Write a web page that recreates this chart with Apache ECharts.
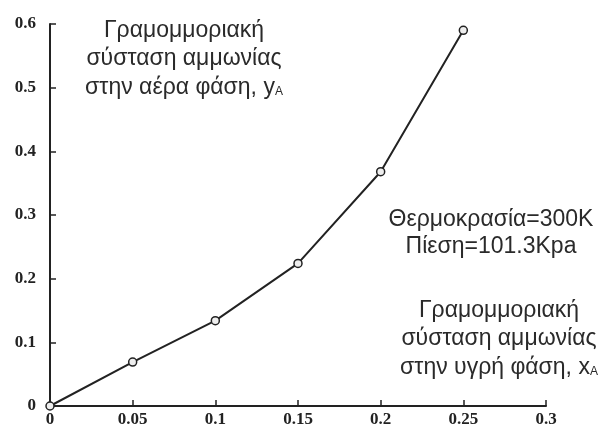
<!DOCTYPE html>
<html><head><meta charset="utf-8">
<script src="https://cdn.jsdelivr.net/npm/echarts@6/dist/echarts.min.js"></script>
<style>html,body{margin:0;padding:0;background:#fff}#c{width:602px;height:428px}</style>
</head><body><div id="c"></div>
<script>
const xValues = [0, 0.05, 0.1, 0.15, 0.2, 0.25];
const yValues = [0, 0.069, 0.134, 0.224, 0.368, 0.59];
const xTicks = [0, 0.05, 0.1, 0.15, 0.2, 0.25, 0.3];
const yTicks = [0, 0.1, 0.2, 0.3, 0.4, 0.5, 0.6];
const yAxisText = ['Γραμομμοριακή', 'σύσταση αμμωνίας', 'στην αέρα φάση, y{s|A}'];
const condText = ['Θερμοκρασία=300K', 'Πίεση=101.3Kpa'];
const xAxisText = ['Γραμομμοριακή', 'σύσταση αμμωνίας', 'στην υγρή φάση, x{s|A}'];

const chart = echarts.init(document.getElementById('c'), null, {renderer: 'canvas'});
const sans = 'Liberation Sans, Arial, sans-serif';
const serif = 'Liberation Serif, Times New Roman, serif';
const rich = {s: {fontSize: 12, fontFamily: sans, fill: '#2a2a2a', verticalAlign: 'middle', padding: [8, 0, 0, 0]}};
chart.setOption({
  animation: false,
  grid: {left: 50, right: 56, top: 24, bottom: 22},
  xAxis: {
    type: 'value', min: xTicks[0], max: xTicks[xTicks.length - 1], interval: 0.05,
    axisLine: {show: true, onZero: false, lineStyle: {color: '#222', width: 2}},
    axisTick: {show: true, inside: true, length: 6, lineStyle: {color: '#222', width: 1.5}},
    axisLabel: {margin: 5, color: '#222', fontFamily: serif, fontWeight: 'bold', fontSize: 17},
    splitLine: {show: false}
  },
  yAxis: {
    type: 'value', min: yTicks[0], max: yTicks[yTicks.length - 1], interval: 0.1,
    axisLine: {show: true, onZero: false, lineStyle: {color: '#222', width: 2}},
    axisTick: {show: true, inside: true, length: 6, lineStyle: {color: '#222', width: 1.5}},
    axisLabel: {margin: 14, color: '#222', fontFamily: serif, fontWeight: 'bold', fontSize: 17},
    splitLine: {show: false}
  },
  series: [{
    type: 'line',
    data: xValues.map((x, i) => [x, yValues[i]]),
    symbol: 'circle', symbolSize: 8, showAllSymbol: true,
    lineStyle: {color: '#222', width: 2},
    itemStyle: {color: '#eee', borderColor: '#222', borderWidth: 1.5},
    clip: false
  }],
  graphic: [
    {type: 'group', children: [
      {type: 'text', x: 184, y: 16, z: 10, style: {text: yAxisText.join('\n'), fontSize: 23, fontFamily: sans, fill: '#2a2a2a', align: 'center', lineHeight: 28.5, rich: rich}},
      {type: 'text', x: 491, y: 206, z: 10, style: {text: condText.join('\n'), fontSize: 23, fontFamily: sans, fill: '#2a2a2a', align: 'center', lineHeight: 27, rich: rich}},
      {type: 'text', x: 499, y: 296, z: 10, style: {text: xAxisText.join('\n'), fontSize: 23, fontFamily: sans, fill: '#2a2a2a', align: 'center', lineHeight: 28.5, rich: rich}}
    ]}
  ]
});
</script>
</body></html>
